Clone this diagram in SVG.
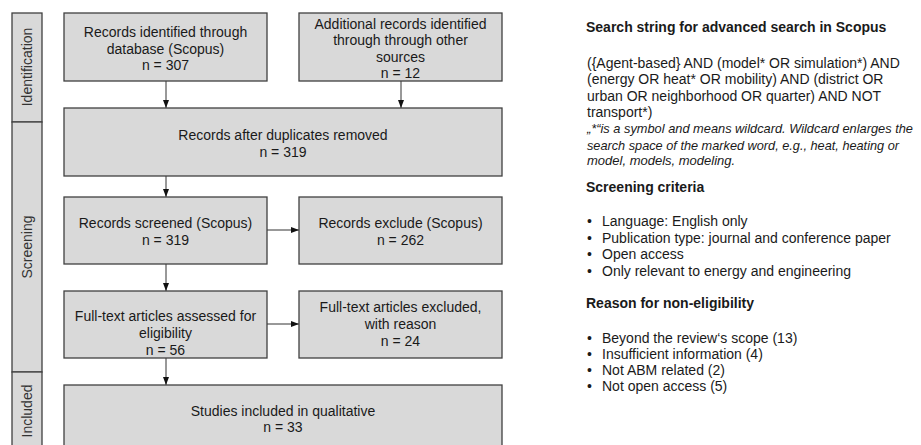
<svg xmlns="http://www.w3.org/2000/svg" width="921" height="445" viewBox="0 0 921 445">
<style>
.box{fill:#d9d9d9;stroke:#404040;stroke-width:1.3}
.side{fill:#d9d9d9;stroke:#404040;stroke-width:1.3}
.t{font-family:"Liberation Sans",Arial,sans-serif;font-size:14px;fill:#1a1a1a;text-anchor:middle}
.r{font-family:"Liberation Sans",Arial,sans-serif;font-size:14px;fill:#1a1a1a}
.h{font-weight:bold}
.i{font-style:italic;font-size:13px}
.st{font-family:"Liberation Sans",Arial,sans-serif;font-size:14px;fill:#333;text-anchor:middle}
.c{stroke:#333;stroke-width:1;fill:none;marker-end:url(#ah)}
</style>
<defs>
<marker id="ah" viewBox="0 0 8 8" refX="8" refY="4" markerWidth="8" markerHeight="8" markerUnits="userSpaceOnUse" orient="auto">
<path d="M0,1 L8,4 L0,7 Z" fill="#111"/>
</marker>
</defs>
<rect width="921" height="445" fill="#fff"/>
<g id="sidebar">
<rect class="side" x="12" y="13" width="30" height="109"/>
<rect class="side" x="12" y="122" width="30" height="250"/>
<rect class="side" x="12" y="372" width="30" height="80"/>
<text class="st" transform="translate(32,67) rotate(-90)">Identification</text>
<text class="st" transform="translate(32,247) rotate(-90)">Screening</text>
<text class="st" transform="translate(32,411) rotate(-90)">Included</text>
</g>
<g id="connectors">
<line class="c" x1="166" y1="81" x2="166" y2="108"/>
<line class="c" x1="401" y1="81" x2="401" y2="108"/>
<line class="c" x1="166" y1="176" x2="166" y2="197"/>
<line class="c" x1="267" y1="230" x2="299" y2="230"/>
<line class="c" x1="166" y1="264" x2="166" y2="291"/>
<line class="c" x1="267" y1="324" x2="299" y2="324"/>
<line class="c" x1="166" y1="358" x2="166" y2="385"/>
</g>
<g id="n1">
<rect class="box" x="64" y="13" width="203" height="68"/>
<text class="t" x="165.5" y="37">Records identified through</text>
<text class="t" x="165.5" y="53.5">database (Scopus)</text>
<text class="t" x="165.5" y="70">n = 307</text>
</g>
<g id="n2">
<rect class="box" x="299" y="13" width="203" height="68"/>
<text class="t" x="400.5" y="28.5">Additional records identified</text>
<text class="t" x="400.5" y="45">through through other</text>
<text class="t" x="400.5" y="61.5">sources</text>
<text class="t" x="400.5" y="78">n = 12</text>
</g>
<g id="n3">
<rect class="box" x="64" y="108" width="438" height="68"/>
<text class="t" x="283" y="140">Records after duplicates removed</text>
<text class="t" x="283" y="157">n = 319</text>
</g>
<g id="n4">
<rect class="box" x="64" y="197" width="203" height="67"/>
<text class="t" x="165.5" y="228">Records screened (Scopus)</text>
<text class="t" x="165.5" y="244.5">n = 319</text>
</g>
<g id="n5">
<rect class="box" x="299" y="197" width="203" height="67"/>
<text class="t" x="400.5" y="228">Records exclude (Scopus)</text>
<text class="t" x="400.5" y="244.5">n = 262</text>
</g>
<g id="n6">
<rect class="box" x="64" y="291" width="203" height="67"/>
<text class="t" x="165.5" y="321">Full-text articles assessed for</text>
<text class="t" x="165.5" y="338">eligibility</text>
<text class="t" x="165.5" y="355">n = 56</text>
</g>
<g id="n7">
<rect class="box" x="299" y="291" width="203" height="67"/>
<text class="t" x="400.5" y="312">Full-text articles excluded,</text>
<text class="t" x="400.5" y="329">with reason</text>
<text class="t" x="400.5" y="345.5">n = 24</text>
</g>
<g id="n8">
<rect class="box" x="64" y="385" width="438" height="67"/>
<text class="t" x="283" y="415.5">Studies included in qualitative</text>
<text class="t" x="283" y="431.5">n = 33</text>
</g>
<g id="notes">
<text class="r h" x="586" y="31.5">Search string for advanced search in Scopus</text>
<text class="r" x="587" y="67.5">({Agent-based} AND (model* OR simulation*) AND</text>
<text class="r" x="587" y="84">(energy OR heat* OR mobility) AND (district OR</text>
<text class="r" x="587" y="100.5">urban OR neighborhood OR quarter) AND NOT</text>
<text class="r" x="587" y="117">transport*)</text>
<text class="r i" x="587" y="133" textLength="326" lengthAdjust="spacingAndGlyphs">„*“is a symbol and means wildcard. Wildcard enlarges the</text>
<text class="r i" x="587" y="150" textLength="312" lengthAdjust="spacingAndGlyphs">search space of the marked word, e.g., heat, heating or</text>
<text class="r i" x="587" y="165">model, models, modeling.</text>
<text class="r h" x="586" y="191.5">Screening criteria</text>
<text class="r" x="587" y="226">•</text><text class="r" x="602" y="226">Language: English only</text>
<text class="r" x="587" y="242.5">•</text><text class="r" x="602" y="242.5">Publication type: journal and conference paper</text>
<text class="r" x="587" y="259">•</text><text class="r" x="602" y="259">Open access</text>
<text class="r" x="587" y="275.5">•</text><text class="r" x="602" y="275.5">Only relevant to energy and engineering</text>
<text class="r h" x="586" y="308">Reason for non-eligibility</text>
<text class="r" x="587" y="343">•</text><text class="r" x="602" y="343">Beyond the review‘s scope (13)</text>
<text class="r" x="587" y="359">•</text><text class="r" x="602" y="359">Insufficient information (4)</text>
<text class="r" x="587" y="375">•</text><text class="r" x="602" y="375">Not ABM related (2)</text>
<text class="r" x="587" y="391">•</text><text class="r" x="602" y="391">Not open access (5)</text>
</g>
</svg>
